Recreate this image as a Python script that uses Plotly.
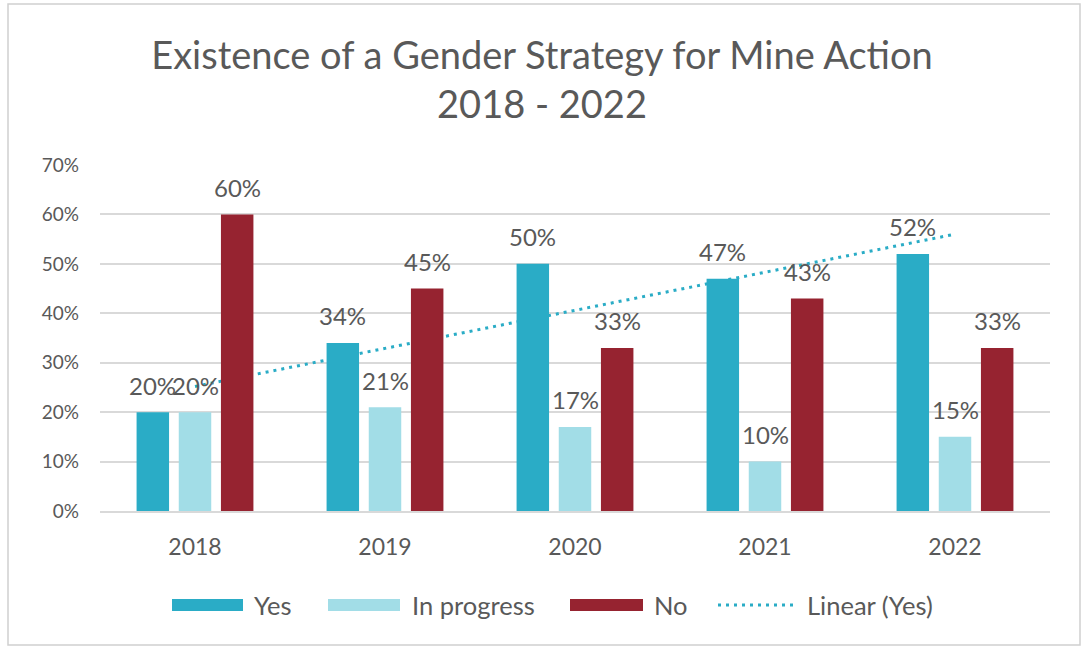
import numpy as np
import plotly.graph_objects as go

YEARS = ["2018", "2019", "2020", "2021", "2022"]
YES = [0.20, 0.34, 0.50, 0.47, 0.52]
IN_PROGRESS = [0.20, 0.21, 0.17, 0.10, 0.15]
NO = [0.60, 0.45, 0.33, 0.43, 0.33]

COLOR_YES = "#2AACC6"
COLOR_PROGRESS = "#A2DDE7"
COLOR_NO = "#962330"
COLOR_TEXT = "#595959"
COLOR_GRID = "#D9D9D9"
FONT = "Lato, sans-serif"

# plot area in pixels, used to place the hand-made legend and frame
PLOT_L, PLOT_R, PLOT_T, PLOT_B = 100, 1050, 165, 511


def px_x(x):
    return (x - PLOT_L) / (PLOT_R - PLOT_L)


def px_y(y):
    return (PLOT_B - y) / (PLOT_B - PLOT_T)


# linear trend of the "Yes" series, as Excel draws it
idx = np.arange(len(YEARS))
slope, intercept = np.polyfit(idx, YES, 1)
trend = slope * idx + intercept

fig = go.Figure()

# trend line on the base axis so the bars (overlay axis) are drawn over it
fig.add_trace(
    go.Scatter(
        x=YEARS,
        y=trend,
        mode="lines",
        line=dict(color=COLOR_YES, width=3, dash="3px,5px"),
        name="Linear (Yes)",
        xaxis="x",
        yaxis="y",
    )
)

series = [("Yes", YES, COLOR_YES), ("In progress", IN_PROGRESS, COLOR_PROGRESS), ("No", NO, COLOR_NO)]
for name, values, color in series:
    fig.add_trace(
        go.Bar(
            x=YEARS,
            y=values,
            name=name,
            marker=dict(color=color, line=dict(width=0)),
            xaxis="x2",
            yaxis="y",
        )
    )

# data labels sitting well above each bar (category index as x position)
slot = 42.2
for k, (name, values, color) in enumerate(series):
    for i, v in enumerate(values):
        fig.add_annotation(
            x=i,
            y=v,
            xref="x",
            yref="y",
            text=f"{v * 100:.0f}%",
            showarrow=False,
            xshift=(k - 1) * slot,
            yshift=27,
            font=dict(family=FONT, size=24, color=COLOR_TEXT),
        )

# custom legend with wide swatches
legend_y = 605
swatches = [
    (172, 243, 252, "Yes", COLOR_YES),
    (328, 400, 410, "In progress", COLOR_PROGRESS),
    (570, 643, 652, "No", COLOR_NO),
]
for x0, x1, tx, label, color in swatches:
    fig.add_shape(
        type="rect",
        xref="paper",
        yref="paper",
        x0=px_x(x0),
        x1=px_x(x1),
        y0=px_y(legend_y + 6),
        y1=px_y(legend_y - 6),
        fillcolor=color,
        line=dict(width=0),
    )
    fig.add_annotation(
        x=px_x(tx),
        y=px_y(legend_y),
        xref="paper",
        yref="paper",
        xanchor="left",
        yanchor="middle",
        text=label,
        showarrow=False,
        font=dict(family=FONT, size=25.5, color=COLOR_TEXT),
    )
fig.add_shape(
    type="line",
    xref="paper",
    yref="paper",
    x0=px_x(718),
    x1=px_x(793),
    y0=px_y(legend_y),
    y1=px_y(legend_y),
    line=dict(color=COLOR_YES, width=3, dash="3px,5px"),
)
fig.add_annotation(
    x=px_x(805),
    y=px_y(legend_y),
    xref="paper",
    yref="paper",
    xanchor="left",
    yanchor="middle",
    text="Linear (Yes)",
    showarrow=False,
    font=dict(family=FONT, size=25.5, color=COLOR_TEXT),
)

# outer chart frame
fig.add_shape(
    type="rect",
    xref="paper",
    yref="paper",
    x0=px_x(8),
    x1=px_x(1080),
    y0=px_y(645),
    y1=px_y(4),
    line=dict(color="#D0D0D0", width=1.5),
    layer="below",
)

fig.update_layout(
    width=1084,
    height=647,
    margin=dict(l=PLOT_L, r=1084 - PLOT_R, t=PLOT_T, b=647 - PLOT_B),
    paper_bgcolor="white",
    plot_bgcolor="white",
    showlegend=False,
    barmode="group",
    bargap=0.334,
    bargroupgap=0.23,
    font=dict(family=FONT, color=COLOR_TEXT),
    title=dict(
        text="Existence of a Gender Strategy for Mine Action<br>2018 - 2022",
        x=0.5,
        xanchor="center",
        y=1 - 69 / 647,
        yanchor="middle",
        font=dict(family=FONT, size=38, color=COLOR_TEXT),
    ),
    xaxis=dict(
        type="category",
        range=[-0.5, 4.5],
        showgrid=False,
        showline=True,
        linecolor=COLOR_GRID,
        linewidth=1.5,
        ticks="",
        ticklabelstandoff=15,
        tickfont=dict(family=FONT, size=23, color=COLOR_TEXT),
    ),
    xaxis2=dict(
        type="category",
        range=[-0.5, 4.5],
        overlaying="x",
        visible=False,
    ),
    yaxis=dict(
        range=[0, 0.70],
        dtick=0.1,
        tickformat=".0%",
        showgrid=True,
        gridcolor=COLOR_GRID,
        gridwidth=1.5,
        zeroline=False,
        ticks="",
        ticklabelstandoff=20,
        tickfont=dict(family=FONT, size=19, color=COLOR_TEXT),
    ),
)

# drop the browser's default page margin so the chart sits at the window origin
fig.write_html(
    "out.html",
    config={"displayModeBar": False},
    post_script="document.body.style.margin = '0';",
)
